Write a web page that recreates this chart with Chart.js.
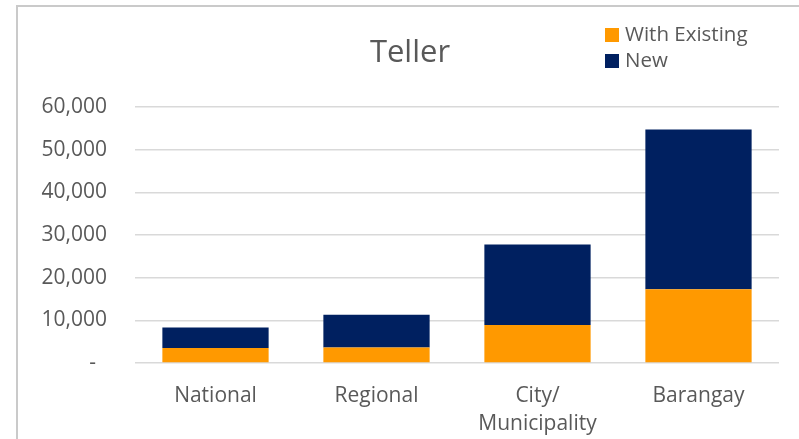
<!DOCTYPE html>
<html>
<head>
<meta charset="utf-8">
<script src="https://cdn.jsdelivr.net/npm/chart.js@4"></script>
<style>
  html, body { margin: 0; padding: 0; background: #fff; }
  #wrap { position: relative; width: 799px; height: 439px; overflow: hidden; }
  #frame {
    position: absolute; left: 16px; top: 5px; width: 900px; height: 500px;
    border-top: 2px solid #cacaca; border-left: 2px solid #cacaca;
  }
  #title {
    position: absolute; left: 310px; width: 200px; top: 30px; text-align: center;
    font-family: "Open Sans", sans-serif; font-size: 31px; color: #595959;
    line-height: 40px;
  }
  #legend {
    position: absolute; left: 605px; top: 20px;
    font-family: "Open Sans", sans-serif; font-size: 20.5px; color: #595959;
  }
  #legend div { height: 26px; line-height: 26px; white-space: nowrap; }
  #legend span.box {
    display: inline-block; width: 14px; height: 14px; margin-right: 6px;
    vertical-align: -1px;
  }
</style>
</head>
<body>
<div id="wrap">
  <div id="frame"></div>
  <canvas id="chart" width="799" height="439"></canvas>
  <div id="title">Teller</div>
  <div id="legend"></div>
</div>
<script>
// Data
const categories = ['National', 'Regional', ['City/', 'Municipality'], 'Barangay'];
const withExisting = [3500, 3650, 8900, 17300];
const newTellers = [4800, 7650, 18900, 37400];
const yTicks = [0, 10000, 20000, 30000, 40000, 50000, 60000];

const seriesNames = ['With Existing', 'New'];
const seriesColors = ['#FF9900', '#002060'];

const textColor = '#595959';
const font = '"Open Sans", sans-serif';

const ctx = document.getElementById('chart').getContext('2d');

const chart = new Chart(ctx, {
  type: 'bar',
  data: {
    labels: categories,
    datasets: [
      {
        label: seriesNames[0],
        data: withExisting,
        backgroundColor: seriesColors[0],
        categoryPercentage: 1,
        barPercentage: 0.66
      },
      {
        label: seriesNames[1],
        data: newTellers,
        backgroundColor: seriesColors[1],
        categoryPercentage: 1,
        barPercentage: 0.66
      }
    ]
  },
  options: {
    responsive: false,
    animation: false,
    layout: {
      padding: { left: 0, right: 20, top: 107, bottom: 0 }
    },
    plugins: {
      legend: { display: false },
      tooltip: { enabled: false },
      title: { display: false }
    },
    scales: {
      x: {
        stacked: true,
        afterFit: (scale) => { scale.height = 76; },
        grid: { display: false },
        border: { display: false },
        ticks: {
          color: textColor,
          padding: 11,
          maxRotation: 0,
          font: { family: font, size: 21, lineHeight: 1.33 }
        }
      },
      y: {
        stacked: true,
        min: 0,
        max: 60000,
        afterFit: (scale) => { scale.width = 135; },
        afterBuildTicks: (scale) => {
          scale.ticks = yTicks.map(v => ({ value: v }));
        },
        grid: {
          color: '#d9d9d9',
          lineWidth: 1.5,
          drawTicks: false
        },
        border: { display: false },
        ticks: {
          color: textColor,
          padding: 28,
          font: { family: font, size: 21 },
          // accounting style: zero shown as a dash
          callback: (v) => v === 0 ? '-  ' : v.toLocaleString('en-US')
        }
      }
    }
  }
});

// HTML legend, stacked vertically at top right
const legendEl = document.getElementById('legend');
chart.data.datasets.forEach(ds => {
  const row = document.createElement('div');
  const box = document.createElement('span');
  box.className = 'box';
  box.style.background = ds.backgroundColor;
  row.appendChild(box);
  row.appendChild(document.createTextNode(ds.label));
  legendEl.appendChild(row);
});
</script>
</body>
</html>
